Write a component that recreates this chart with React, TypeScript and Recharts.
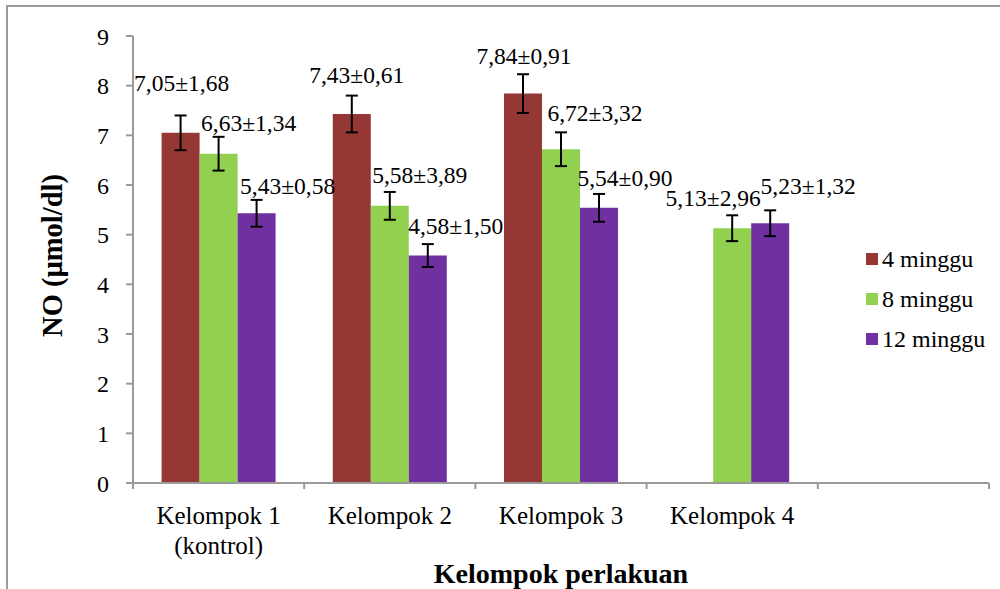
import { BarChart, Bar, XAxis, YAxis, ErrorBar, LabelList, Legend } from 'recharts';

const categories = ['Kelompok 1\n(kontrol)', 'Kelompok 2', 'Kelompok 3', 'Kelompok 4', ''];
const minggu4 = [7.05, 7.43, 7.84, null, null];
const minggu8 = [6.63, 5.58, 6.72, 5.13, null];
const minggu12 = [5.43, 4.58, 5.54, 5.23, null];
const sd4 = [1.68, 0.61, 0.91, null, null];
const sd8 = [1.34, 3.89, 3.32, 2.96, null];
const sd12 = [0.58, 1.5, 0.9, 1.32, null];
// error bars as drawn in the figure (not the SD)
const err4 = [0.35, 0.37, 0.39, null, null];
const err8 = [0.34, 0.28, 0.34, 0.26, null];
const err12 = [0.27, 0.23, 0.28, 0.26, null];
const yTicks = [0, 1, 2, 3, 4, 5, 6, 7, 8, 9];

// hand placed label nudges [dx, dy] from bar top centre
const nudge4 = [[1, -50], [5, -39], [1, -38]];
const nudge8 = [[30, -31], [30, -31], [34, -36], [-19, -30]];
const nudge12 = [[31, -27], [28, -30], [26, -30], [38, -37]];

const W = 1000;
const H = 589;
const PLOT_L = 133;
const PLOT_R = 989;
const BAND = (PLOT_R - PLOT_L) / categories.length;
const FONT = "'Liberation Serif', 'Times New Roman', serif";
const GRAY = '#9a9a9a';

const series = [
  { key: 'm4', err: 'e4', name: '4 minggu', color: '#953735', sd: sd4, nudge: nudge4 },
  { key: 'm8', err: 'e8', name: '8 minggu', color: '#92D050', sd: sd8, nudge: nudge8 },
  { key: 'm12', err: 'e12', name: '12 minggu', color: '#7030A0', sd: sd12, nudge: nudge12 },
];

const data = categories.map((c, i) => ({
  name: c,
  m4: minggu4[i], m8: minggu8[i], m12: minggu12[i],
  e4: err4[i], e8: err8[i], e12: err12[i],
}));

const fmt = (v: number) => v.toFixed(2).replace('.', ',');

const makeLabel = (s: typeof series[number]) => (props: any) => {
  const { x, y, width, value, index } = props;
  if (value == null || s.sd[index] == null) return null;
  const [dx, dy] = s.nudge[index] || [0, -30];
  return (
    <text x={x + width / 2 + dx} y={y + dy} textAnchor="middle" dominantBaseline="central"
      fontFamily={FONT} fontSize={23.5} fill="#000">
      {fmt(value)}±{fmt(s.sd[index] as number)}
    </text>
  );
};

const XTick = (props: any) => {
  const { x, y, payload, index } = props;
  const lines = String(payload.value).split('\n');
  const half = BAND / 2;
  return (
    <g>
      <line x1={x - half} x2={x - half} y1={y} y2={y + 6} stroke={GRAY} strokeWidth={2} />
      {index === categories.length - 1 && (
        <line x1={x + half} x2={x + half} y1={y} y2={y + 6} stroke={GRAY} strokeWidth={2} />
      )}
      <text x={x} y={y + 32} textAnchor="middle" dominantBaseline="central" fontFamily={FONT} fontSize={25} fill="#000">
        {lines.map((l, i) => (
          <tspan key={i} x={x} dy={i === 0 ? 0 : 30}>{l}</tspan>
        ))}
      </text>
    </g>
  );
};

const renderLegend = () => (
  <div style={{ fontFamily: FONT, fontSize: 24, color: '#000' }}>
    {series.map(s => (
      <div key={s.key} style={{ display: 'flex', alignItems: 'center', height: 40 }}>
        <span style={{ width: 12, height: 12, background: s.color, marginRight: 4, display: 'inline-block' }} />
        {s.name}
      </div>
    ))}
  </div>
);

export default function App() {
  return (
    <div style={{ position: 'absolute', left: 0, top: 0, width: W, height: H, background: '#fff', overflow: 'hidden' }}>
      <div style={{ position: 'absolute', left: 6, top: 5, width: W, height: H, borderLeft: `2px solid ${GRAY}`, borderTop: `2px solid ${GRAY}` }} />
      <div style={{ position: 'absolute', left: 0, top: 0 }}>
        <BarChart width={W} height={H} data={data} barCategoryGap="16.7%" barGap={0}
          margin={{ top: 36, right: W - PLOT_R, left: PLOT_L - 60, bottom: 76 }}>
          <XAxis dataKey="name" interval={0} tickSize={0} tickMargin={0} height={30}
            axisLine={{ stroke: GRAY, strokeWidth: 2 }} tickLine={false} tick={<XTick />}
            label={{
              content: ({ viewBox }: any) => (
                <text x={viewBox.x + viewBox.width / 2} y={viewBox.y + 90} textAnchor="middle" dominantBaseline="central"
                  fontFamily={FONT} fontSize={28} fontWeight="bold" fill="#000">Kelompok perlakuan</text>
              ),
            }} />
          <YAxis width={60} domain={[0, 9]} ticks={yTicks} interval={0} tickSize={7} tickMargin={17}
            axisLine={{ stroke: GRAY, strokeWidth: 2 }} tickLine={{ stroke: GRAY, strokeWidth: 2 }}
            tick={{ fontFamily: FONT, fontSize: 24, fill: '#000' }}
            label={{
              content: ({ viewBox }: any) => {
                const cx = viewBox.x - 21;
                const cy = viewBox.y + viewBox.height / 2 - 4;
                return (
                  <text x={cx} y={cy} transform={`rotate(-90, ${cx}, ${cy})`} textAnchor="middle" dominantBaseline="central"
                    fontFamily={FONT} fontSize={28.5} fontWeight="bold" fill="#000">NO (µmol/dl)</text>
                );
              },
            }} />
          <Legend layout="vertical" align="center" verticalAlign="middle" content={renderLegend}
            wrapperStyle={{ left: 866, top: 239, width: 130 }} />
          {series.map(s => (
            <Bar key={s.key} dataKey={s.key} name={s.name} fill={s.color} isAnimationActive={false}>
              <ErrorBar dataKey={s.err} width={6} strokeWidth={2} stroke="#000" direction="y" />
              <LabelList dataKey={s.key} content={makeLabel(s)} />
            </Bar>
          ))}
        </BarChart>
      </div>
    </div>
  );
}
